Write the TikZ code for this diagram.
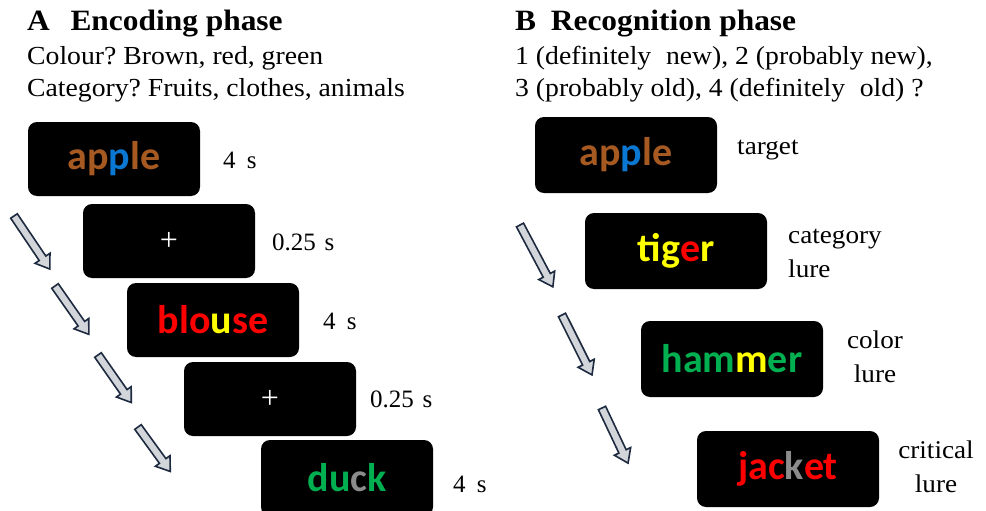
\documentclass[tikz,border=0pt]{standalone}
\usepackage{fontspec}
\setmainfont{Liberation Serif}[FakeStretch=1.065]
\newfontfamily\plainserif{Liberation Serif}
\newfontfamily\wordfont{Carlito}
\frenchspacing

% colours of the letters shown on the screens
\definecolor{wbrown}{HTML}{A65A22}
\definecolor{wblue}{HTML}{0A78D2}
\definecolor{wred}{HTML}{FF0000}
\definecolor{wyellow}{HTML}{FFFF00}
\definecolor{wgreen}{HTML}{00B050}
\definecolor{wgray}{HTML}{8C8C8C}
\definecolor{arrowfill}{HTML}{D2D5DA}
\definecolor{arrowline}{HTML}{1E2A40}

\tikzset{
  screen/.style={fill=black, rounded corners=9pt, minimum width=172pt,
    minimum height=74pt, inner sep=0pt,
    font=\wordfont\bfseries\fontsize{40}{44}\selectfont},
  bigscreen/.style={screen, minimum width=182pt, minimum height=76pt},
  fixation/.style={text=white, font=\plainserif\fontsize{32}{34}\selectfont},
  timelabel/.style={anchor=west, inner sep=0pt, font=\plainserif\fontsize{25}{28}\selectfont},
  lurelabel/.style={inner sep=0pt, align=#1, font=\fontsize{25.5}{34}\selectfont},
  heading/.style={anchor=base west, inner sep=0pt, font=\bfseries\fontsize{29.5}{32}\selectfont},
  question/.style={anchor=base west, inner sep=0pt, font=\fontsize{26}{30}\selectfont},
  hollow/.pic={
    \draw[fill=arrowfill, draw=arrowline, line width=1.6pt, line join=miter]
      (0,-4) -- ({#1-13},-4) -- ({#1-13},-9) -- (#1,0)
      -- ({#1-13},9) -- ({#1-13},4) -- (0,4) -- cycle;
  }
}

\begin{document}
\begin{tikzpicture}[x=1pt, y=-1pt]
  \useasboundingbox (0,0) rectangle (986,511);

  % ---------- A: encoding phase ----------
  \node[heading]  (ha) at (27,31) {A\hspace{0.7em}Encoding phase};
  \node[question] (qa1) at (27,65) {Colour? Brown, red, green};
  \node[question] (qa2) at (27,96) {Category? Fruits, clothes, animals};

  \node[screen] (e1) at (114,159) {\textcolor{wbrown}{a}\textcolor{wbrown}{p}\textcolor{wblue}{p}\textcolor{wbrown}{le}};
  \node[screen] (e2) at (169,241) {};
  \node[fixation] at (e2) {+};
  \node[screen] (e3) at (213,320) {\textcolor{wred}{blo}\textcolor{wyellow}{u}\textcolor{wred}{se}};
  \node[screen] (e4) at (270,399) {};
  \node[fixation] at (e4) {+};
  \node[screen, minimum height=76pt] (e5) at (347,478) {\textcolor{wgreen}{du}\textcolor{wgray}{c}\textcolor{wgreen}{k}};

  \node[timelabel] (t1) at (223,160) {4\hspace{0.45em}s};
  \node[timelabel] (t2) at (272,242) {0.25\hspace{0.35em}s};
  \node[timelabel] (t3) at (323,321) {4\hspace{0.45em}s};
  \node[timelabel] (t4) at (370,399) {0.25\hspace{0.35em}s};
  \node[timelabel] (t5) at (453,484) {4\hspace{0.45em}s};

  \coordinate (ea1) at (14,216);
  \coordinate (ea2) at (55,286);
  \coordinate (ea3) at (98,355);
  \coordinate (ea4) at (138,427);
  \pic[rotate=-56] at (ea1) {hollow=64};
  \pic[rotate=-55] at (ea2) {hollow=59};
  \pic[rotate=-55] at (ea3) {hollow=58};
  \pic[rotate=-54] at (ea4) {hollow=55};

  % ---------- B: recognition phase ----------
  \node[heading]  (hb) at (515,31) {B\hspace{0.5em}Recognition phase};
  \node[question] (qb1) at (515,65) {1 (definitely\hspace{0.3em} new), 2 (probably new),};
  \node[question] (qb2) at (515,96) {3 (probably old), 4 (definitely\hspace{0.3em} old) ?};

  \node[bigscreen] (r1) at (626,155) {\textcolor{wbrown}{a}\textcolor{wbrown}{p}\textcolor{wblue}{p}\textcolor{wbrown}{le}};
  \node[bigscreen] (r2) at (676,251) {\textcolor{wyellow}{tig}\textcolor{wred}{e}\textcolor{wyellow}{r}};
  \node[bigscreen] (r3) at (732,359) {\textcolor{wgreen}{ham}\textcolor{wyellow}{m}\textcolor{wgreen}{er}};
  \node[bigscreen] (r4) at (788,469) {\textcolor{wred}{jac}\textcolor{wgray}{k}\textcolor{wred}{et}};

  \node[lurelabel=left, anchor=west] (l1) at (737,150) {target};
  \node[lurelabel=left, anchor=west] (l2) at (788,253) {category\\lure};
  \node[lurelabel=center] (l3) at (875,357) {color\\lure};
  \node[lurelabel=center] (l4) at (936,467) {critical\\lure};

  \coordinate (ra1) at (520,225);
  \coordinate (ra2) at (562,315);
  \coordinate (ra3) at (602,408);
  \pic[rotate=-62] at (ra1) {hollow=70};
  \pic[rotate=-63.4] at (ra2) {hollow=67};
  \pic[rotate=-64.7] at (ra3) {hollow=61};
\end{tikzpicture}
\end{document}
